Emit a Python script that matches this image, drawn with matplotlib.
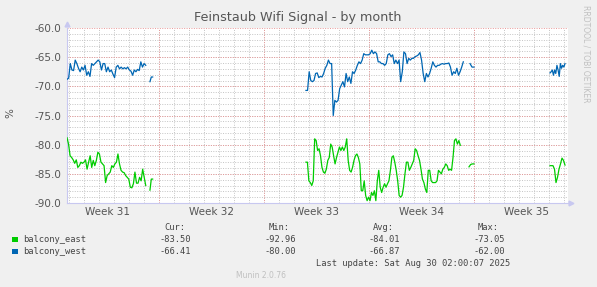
import numpy as np
import matplotlib.pyplot as plt
from matplotlib.transforms import blended_transform_factory

# time axis in days from the left edge of the graph
x_span = 33.4
week_starts = [6.15, 13.15, 20.15, 27.15]
week_labels = ["Week 31", "Week 32", "Week 33", "Week 34", "Week 35"]
week_label_pos = [2.7, 9.65, 16.65, 23.65, 30.65]

# balcony_east segments: (start day, end day, values)
east_segments = [
    (0.0, 5.25, [-78.8, -79.9, -81.9, -82.2, -82.6, -83.2, -82.6, -83.9, -83.6, -83.0, -83.2, -83.0, -82.6,
                 -84.2, -83.0, -81.9, -83.9, -82.7, -83.6, -82.7, -81.3, -81.6, -83.0, -83.3, -83.6, -86.5,
                 -85.3, -85.0, -84.7, -83.6, -83.9, -83.3, -83.0, -81.6, -83.3, -84.4, -84.7, -84.8, -85.3,
                 -85.6, -85.9, -87.3, -87.4, -86.7, -84.7, -86.6, -86.6, -85.6, -86.2, -84.2, -85.6, -87.0]),
    (5.53, 5.71, [-87.8, -85.9, -85.9]),
    (15.93, 26.22, [-83.0, -83.0, -86.2, -86.5, -87.0, -86.2, -79.0, -79.3, -81.0, -80.7, -81.9, -83.9, -84.7,
                    -84.9, -84.2, -82.7, -82.2, -79.9, -80.4, -81.9, -83.3, -82.2, -81.3, -80.4, -81.0, -80.4,
                    -81.0, -80.4, -79.0, -82.7, -84.4, -84.7, -83.9, -82.7, -81.9, -81.6, -82.2, -83.3, -87.9,
                    -87.9, -86.2, -88.7, -89.6, -89.0, -89.6, -88.2, -88.7, -87.9, -89.6, -86.2, -84.4, -87.3,
                    -88.2, -87.3, -86.7,
                    -87.3, -86.7, -86.2, -84.4, -82.2, -81.9, -83.0, -84.4, -86.2, -88.7, -89.0, -88.7, -87.3,
                    -85.0, -83.0, -83.0, -84.4, -83.9, -83.3, -82.7, -80.7, -81.0, -81.9, -82.7, -84.2, -85.9,
                    -86.5, -87.6, -88.2, -84.4, -84.4, -86.2, -86.5, -86.5, -86.5, -86.2, -84.4, -84.7, -85.0,
                    -84.2, -83.9, -83.3, -83.6, -84.4, -84.2, -84.4, -82.2, -79.3, -79.0, -79.9, -79.3, -80.1]),
    (26.8, 27.13, [-83.8, -83.4, -83.3, -83.3]),
    (32.2, 33.2, [-83.6, -83.6, -83.6, -84.2, -86.5, -85.6, -84.2, -83.3, -82.3, -82.7, -83.5]),
]

# balcony_west segments
west_segments = [
    (0.0, 5.25, [-68.8, -68.6, -66.1, -67.2, -67.3, -65.5, -66.1, -66.9, -67.5, -66.7, -67.2, -66.4, -68.1,
                 -67.5, -68.3, -66.1, -66.4, -66.1, -65.8, -65.5, -65.8, -67.2, -66.1, -66.1, -67.5, -66.7,
                 -67.5, -67.2, -67.9, -68.5, -66.7, -66.4, -67.0, -66.7, -67.0, -66.8, -67.0, -66.7, -67.2,
                 -67.4, -68.1, -67.2, -67.5, -67.1, -67.3, -65.8, -66.7, -66.1, -66.4]),
    (5.53, 5.71, [-69.2, -68.4, -68.4]),
    (15.93, 26.42, [-70.7, -70.7, -67.5, -69.0, -69.2, -69.0, -67.8, -67.7, -68.5, -68.3, -68.4, -67.8, -66.9,
                    -66.4, -65.5, -66.1, -66.1, -75.0, -72.4, -72.7, -72.4, -70.4, -69.8, -69.2, -70.1, -67.8,
                    -69.2, -68.4, -69.5, -67.5, -67.8, -67.2, -66.4, -65.8, -66.1, -65.5, -64.4, -64.6, -64.6,
                    -64.6, -64.4, -63.8, -64.4, -64.1, -64.4, -65.8, -65.8, -66.1, -66.1, -66.4, -66.1,
                    -64.6, -64.4, -64.9, -64.6, -66.1, -65.5, -66.1, -65.5, -69.2, -67.5, -64.1, -64.4, -66.1,
                    -65.2, -65.5, -65.2, -65.2, -64.9, -64.8, -64.6, -64.2, -65.5, -67.8, -69.2, -67.8, -68.4,
                    -67.8, -66.9, -65.8, -66.4, -66.7, -66.4, -66.4, -66.2, -66.1, -66.2, -66.1, -66.1, -66.0,
                    -66.7, -68.1, -67.5, -67.8, -66.9, -68.1, -67.5, -66.7, -65.8]),
    (26.87, 27.13, [-66.1, -66.7, -66.7]),
    (32.2, 33.2, [-67.7, -67.5, -67.2, -68.1, -67.2, -67.8, -66.4, -67.2, -68.3, -66.1, -66.9, -66.4, -66.7,
                  -66.1]),
]

series_names = ["balcony_east", "balcony_west"]
series_colors = ["#00CC00", "#0066B3"]
cur_vals = ["-83.50", "-66.41"]
min_vals = ["-92.96", "-80.00"]
avg_vals = ["-84.01", "-66.87"]
max_vals = ["-73.05", "-62.00"]

W, H = 597, 287
bg = "#F0F0F0"
txt = "#555555"

fig = plt.figure(figsize=(W / 100, H / 100), dpi=100, facecolor=bg)
ax = fig.add_axes([67 / W, (H - 203) / H, (568 - 67) / W, (203 - 28) / H])
ax.set_facecolor("white")
ax.set_xlim(0, x_span)
ax.set_ylim(-90, -60)

# grid
minor_days = np.arange(week_starts[0] - 7, x_span, 1.0)
minor_days = minor_days[minor_days > 0]
for d in minor_days:
    ax.axvline(d, color="#C4C4C4", lw=0.7, ls=(0, (1, 1.5)), zorder=1)
for v in range(-89, -60):
    ax.axhline(v, color="#C4C4C4", lw=0.7, ls=(0, (1, 1.5)), zorder=1)
for d in week_starts:
    ax.axvline(d, color="#E89898", lw=0.7, ls=(0, (1, 1.5)), zorder=2)
for v in range(-90, -59, 5):
    ax.axhline(v, color="#E89898", lw=0.7, ls=(0, (1, 1.5)), zorder=2)

# data
for segs, col in zip([east_segments, west_segments], series_colors):
    for start, end, vals in segs:
        xs = np.linspace(start, end, len(vals))
        ax.plot(xs, vals, color=col, lw=0.9, zorder=3)

# axes look
for s in ["top", "right"]:
    ax.spines[s].set_visible(False)
for s in ["left", "bottom"]:
    ax.spines[s].set_color("#C8C8F0")
    ax.spines[s].set_linewidth(0.8)
ax.plot([0], [1.025], marker="^", color="#C8C8F0", ms=3.5, transform=ax.transAxes, clip_on=False)
ax.plot([1.006], [0], marker=">", color="#C8C8F0", ms=3.5, transform=ax.transAxes, clip_on=False)

ax.set_xticks([])
ax.set_yticks(range(-90, -59, 5))
ax.set_yticklabels(["%.1f" % v for v in range(-90, -59, 5)], fontsize=7.5, color=txt)
ax.tick_params(axis="y", length=0, pad=4)

trans = blended_transform_factory(ax.transData, fig.transFigure)
for pos, lab in zip(week_label_pos, week_labels):
    ax.text(pos, 1 - 212 / H, lab, transform=trans, ha="center", va="center", fontsize=7.5, color=txt)

fig.text(298 / W, 1 - 18 / H, "Feinstaub Wifi Signal - by month", ha="center", va="center",
         fontsize=9.2, color=txt)
fig.text(10 / W, 1 - 113 / H, "%", rotation=90, ha="center", va="center", fontsize=7.5, color=txt)
fig.text(586 / W, 1 - 5 / H, "RRDTOOL / TOBI OETIKER", rotation=270, ha="center", va="top",
         fontsize=5.5, color="#C0C0C0")

# legend table
mono = dict(family="DejaVu Sans Mono", fontsize=6.3, color="#444444", va="center")
header_y = 1 - 228 / H
for x, lab in zip([185, 290, 394, 499], ["Cur:", "Min:", "Avg:", "Max:"]):
    fig.text(x / W, header_y, lab, ha="right", **mono)
for i, name in enumerate(series_names):
    y = 1 - (239.5 + 12 * i) / H
    fig.patches.append(plt.Rectangle((12 / W, y - 2.8 / H), 5.5 / W, 5.5 / H, transform=fig.transFigure,
                                     facecolor=series_colors[i], edgecolor="none"))
    fig.text(23 / W, y, name, ha="left", **mono)
    for x, val in zip([191, 296, 400, 505], [cur_vals[i], min_vals[i], avg_vals[i], max_vals[i]]):
        fig.text(x / W, y, val, ha="right", **mono)
fig.text(510 / W, 1 - 263.5 / H, "Last update: Sat Aug 30 02:00:07 2025", ha="right", **mono)
fig.text(261 / W, 1 - 276 / H, "Munin 2.0.76", ha="center", va="center", fontsize=5.5, color="#C0C0C0")

fig.savefig("out.png", dpi=100, facecolor=bg)
